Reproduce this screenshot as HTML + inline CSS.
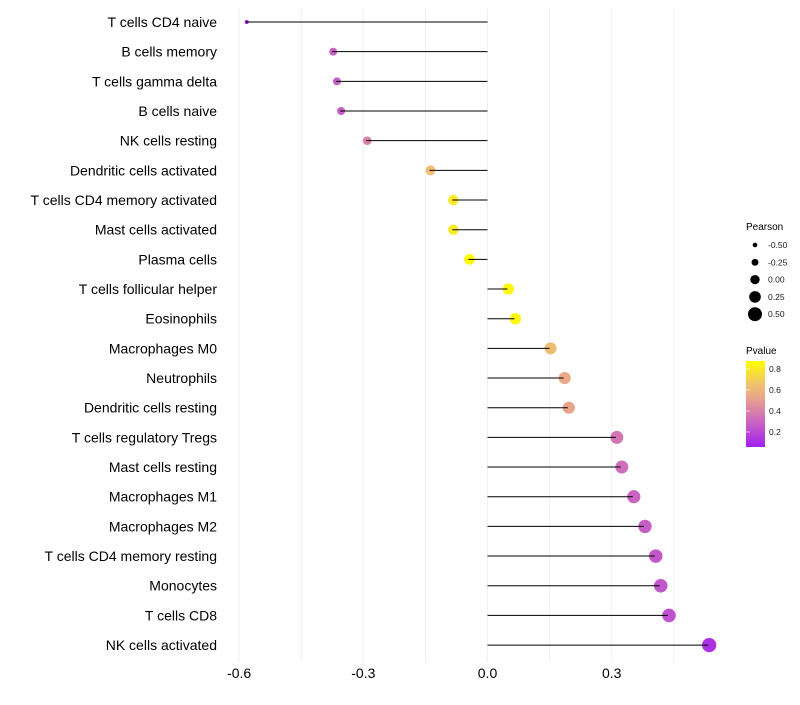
<!DOCTYPE html>
<html><head><meta charset="utf-8"><style>
body{margin:0;background:#fff;font-family:"Liberation Sans",sans-serif}
</style></head><body>
<svg id="chart" width="800" height="700" xmlns="http://www.w3.org/2000/svg" font-family="Liberation Sans, sans-serif">
<g id="grid"></g><g id="pts"></g><g id="lines"></g><g id="ylabels"></g><g id="xlabels"></g>
<g id="legend">
<text x="746" y="230" font-size="10">Pearson</text>
<g id="sizeleg"></g>
<text x="746" y="354" font-size="10">Pvalue</text>
<defs><linearGradient id="pg" x1="0" y1="1" x2="0" y2="0">
<stop offset="0" stop-color="#a020f0"/><stop offset="0.3" stop-color="#cc66c0"/><stop offset="0.55" stop-color="#e8a090"/><stop offset="0.72" stop-color="#f0c070"/><stop offset="1" stop-color="#ffff00"/></linearGradient></defs>
<rect x="746" y="361" width="19" height="86" fill="url(#pg)"/>
<g id="colleg"></g>
</g>
</svg>
<script>
const categories=["T cells CD4 naive","B cells memory","T cells gamma delta","B cells naive","NK cells resting","Dendritic cells activated","T cells CD4 memory activated","Mast cells activated","Plasma cells","T cells follicular helper","Eosinophils","Macrophages M0","Neutrophils","Dendritic cells resting","T cells regulatory  Tregs ","Mast cells resting","Macrophages M1","Macrophages M2","T cells CD4 memory resting","Monocytes","T cells CD8","NK cells activated"];
const pearson=[-0.584,-0.375,-0.366,-0.356,-0.293,-0.140,-0.085,-0.085,-0.046,0.048,0.065,0.150,0.184,0.194,0.310,0.322,0.351,0.378,0.404,0.416,0.436,0.533];
const pvalues=[0.08,0.3,0.3,0.3,0.42,0.65,0.8,0.8,0.88,0.86,0.85,0.64,0.56,0.54,0.37,0.35,0.31,0.29,0.27,0.26,0.25,0.14];
const xTicks=[-0.6,-0.3,0.0,0.3];
const xGrid=[-0.6,-0.45,-0.3,-0.15,0,0.15,0.3,0.45];
const sizeLegend=[-0.5,-0.25,0,0.25,0.5];
const colorLegend=[0.8,0.6,0.4,0.2];
const NS="http://www.w3.org/2000/svg";
const x=v=>487.5+v*414;
const y=i=>22+i*29.67;
const r=v=>v<-0.5?2:Math.sqrt(30+38*v);
const rl=v=>2.3+(v+0.5)*4.7;
const pmin=0.08,pmax=0.88;
const stops=[[0,[160,32,240]],[0.3,[204,102,192]],[0.55,[232,160,144]],[0.72,[240,192,112]],[1,[255,255,0]]];
function col(p){let t=Math.min(1,Math.max(0,(p-pmin)/(pmax-pmin)));for(let k=1;k<stops.length;k++){if(t<=stops[k][0]){const a=stops[k-1],b=stops[k],f=(t-a[0])/(b[0]-a[0]);return`rgb(${a[1].map((c,j)=>Math.round(c+(b[1][j]-c)*f)).join(',')})`;}}return'rgb(255,255,0)';}
function mk(tag,attrs,parent){const e=document.createElementNS(NS,tag);for(const k in attrs)e.setAttribute(k,attrs[k]);document.getElementById(parent).appendChild(e);return e;}
xGrid.forEach(v=>{const e=mk('line',{x1:x(v),x2:x(v),y1:8,y2:662,stroke:'#f0f0f0','stroke-width':1},'grid');

});
categories.forEach((c,i)=>{
const p=mk('circle',{cx:x(pearson[i])+1,cy:y(i),r:r(pearson[i]),fill:col(pvalues[i])},'pts');


const l=mk('line',{x1:x(0),x2:x(pearson[i]),y1:y(i),y2:y(i),stroke:'#000','stroke-width':1},'lines');


const t=mk('text',{x:217,y:y(i)+5,'text-anchor':'end','font-size':14,fill:'#000'},'ylabels');t.textContent=c;


});
xTicks.forEach(v=>{const t=mk('text',{x:x(v),y:678,'text-anchor':'middle','font-size':14,fill:'#000'},'xlabels');t.textContent=v.toFixed(1);

});
sizeLegend.forEach((v,i)=>{const yy=245+i*17.3;const c=mk('circle',{cx:755,cy:yy,r:rl(v),fill:'#000'},'sizeleg');


const t=mk('text',{x:768,y:yy+3,'font-size':8.5,fill:'#1a1a1a'},'sizeleg');t.textContent=v.toFixed(2);

});
colorLegend.forEach(v=>{const yy=432-(v-0.2)*105;
const tk=mk('line',{x1:746,x2:750,y1:yy,y2:yy,stroke:'#fff','stroke-width':0.6},'colleg');


const t=mk('text',{x:769,y:yy+3,'font-size':8.5,fill:'#1a1a1a'},'colleg');t.textContent=v.toFixed(1);

});
</script>
</body></html>
